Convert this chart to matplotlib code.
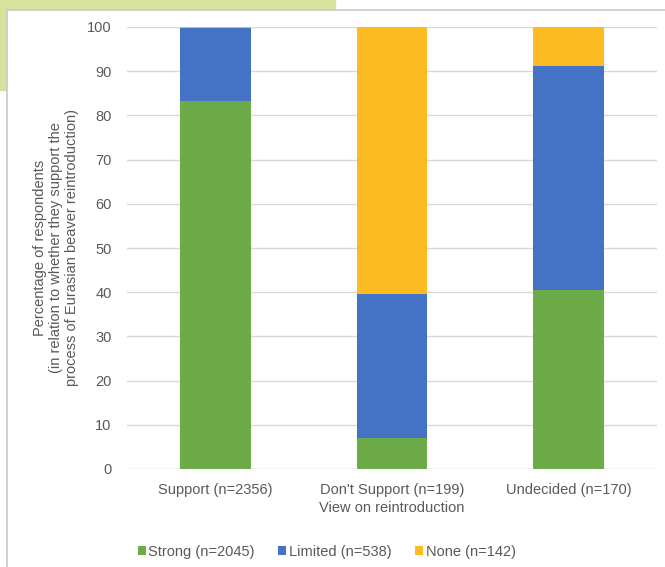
import matplotlib.pyplot as plt
from matplotlib.patches import Rectangle

plt.rcParams['font.family'] = ['Liberation Sans', 'DejaVu Sans']

# Percentages
categories = ["Support (n=2356)", "Don't Support (n=199)", "Undecided (n=170)"]
strong = [83.3, 7.0, 40.4]
limited = [16.4, 32.6, 50.8]
none = [0.3, 60.4, 8.8]
series_labels = ["Strong (n=2045)", "Limited (n=538)", "None (n=142)"]
colors = ["#6cab47", "#4472c4", "#fdbb22"]
grey = "#595959"

fig = plt.figure(figsize=(6.65, 5.67), dpi=100)

# page background: green band behind the white chart box
fig.patches.append(Rectangle((0, 1 - 90 / 567), 335 / 665, 90 / 567,
                             transform=fig.transFigure, color="#d7e39c", zorder=-2))
fig.patches.append(Rectangle((7 / 665, -0.01), 1, 1 - 10 / 567 + 0.01,
                             transform=fig.transFigure, facecolor="white",
                             edgecolor="#c8c8c8", linewidth=1.2, zorder=-1))

ax = fig.add_axes([127 / 665, 1 - 469 / 567, 530 / 665, 442 / 567])
ax.set_facecolor("none")
ax.set_zorder(2)

x = range(len(categories))
bottom2 = [s + l for s, l in zip(strong, limited)]
ax.bar(x, strong, width=0.4, color=colors[0], label=series_labels[0], zorder=3)
ax.bar(x, limited, width=0.4, bottom=strong, color=colors[1], label=series_labels[1], zorder=3)
ax.bar(x, none, width=0.4, bottom=bottom2, color=colors[2], label=series_labels[2], zorder=3)

ax.set_xlim(-0.5, 2.5)
ax.set_ylim(0, 100)
ax.set_yticks(range(0, 101, 10))
ax.set_xticks(list(x))
ax.set_xticklabels(categories)
ax.grid(axis='y', color="#d9d9d9", linewidth=1, zorder=0)
for s in ax.spines.values():
    s.set_visible(False)
ax.tick_params(length=0, colors=grey, labelsize=10.5)
ax.tick_params(axis='y', pad=11)
ax.tick_params(axis='x', pad=10)

ax.set_xlabel("View on reintroduction", color=grey, fontsize=10.5, labelpad=3)
ax.set_ylabel("Percentage of respondents\n(in relation to whether they support the\nprocess of Eurasian beaver reintroduction)",
              color=grey, fontsize=10.5, labelpad=6, linespacing=1.15)

leg = ax.legend(loc='upper center', bbox_to_anchor=(0.377, -0.142), ncol=3, frameon=False,
                fontsize=10.5, handlelength=0.55, handleheight=0.55, handletextpad=0.2,
                columnspacing=1.6, labelcolor=grey)

plt.savefig("out.png", dpi=100)
